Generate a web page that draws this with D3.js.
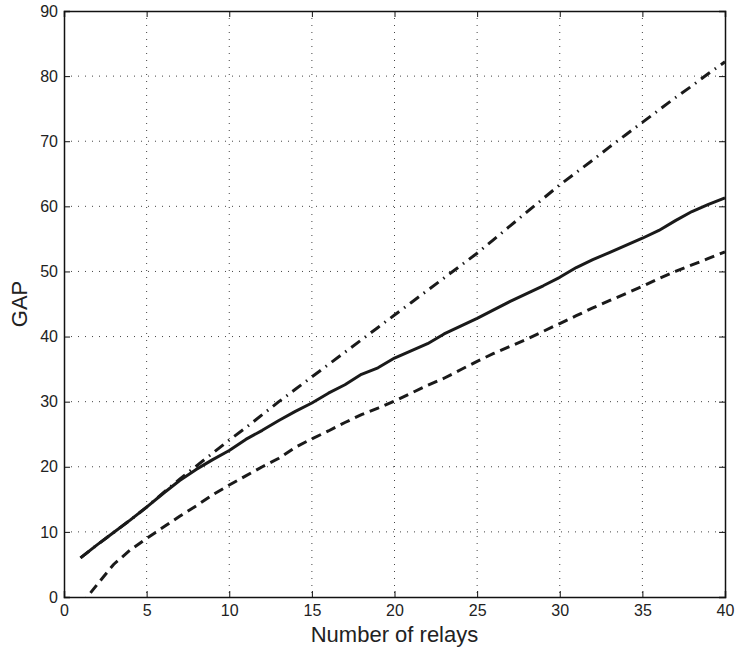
<!DOCTYPE html>
<html>
<head>
<meta charset="utf-8">
<script src="https://cdn.jsdelivr.net/npm/d3@7/dist/d3.min.js"></script>
<style>
  html, body { margin: 0; padding: 0; background: #fff; }
  svg { display: block; }
  text { font-family: "Liberation Sans", Arial, Helvetica, sans-serif; fill: #222; }
</style>
</head>
<body>
<script>
// ---- data ----
const relays = d3.range(1, 41);
const simulated = [6.0, 8.0, 9.9, 11.8, 13.8, 15.9, 17.9, 19.6, 21.1, 22.5,
  24.2, 25.6, 27.1, 28.5, 29.8, 31.3, 32.6, 34.2, 35.2, 36.7,
  37.8, 38.9, 40.4, 41.6, 42.8, 44.1, 45.4, 46.6, 47.8, 49.1,
  50.6, 51.8, 52.9, 54.0, 55.1, 56.3, 57.8, 59.2, 60.3, 61.3];
const upperBound = [6.0, 8.0, 9.9, 11.8, 13.8, 16.0, 18.1, 20.1, 22.1, 24.1,
  26.0, 28.0, 30.0, 31.9, 33.8, 35.7, 37.6, 39.5, 41.4, 43.3,
  45.2, 47.1, 49.0, 50.9, 52.8, 54.9, 57.0, 59.1, 61.2, 63.3,
  65.2, 67.1, 69.1, 71.0, 72.9, 74.8, 76.7, 78.5, 80.4, 82.2];
const lowerBound = [-1.3, 1.9, 5.0, 7.2, 9.0, 10.7, 12.4, 14.0, 15.7, 17.2,
  18.6, 20.0, 21.3, 23.0, 24.3, 25.5, 26.8, 28.0, 29.0, 30.1,
  31.3, 32.5, 33.6, 34.9, 36.2, 37.4, 38.5, 39.6, 40.8, 42.0,
  43.2, 44.4, 45.5, 46.6, 47.7, 48.9, 50.0, 51.0, 52.0, 53.0];
const xTicks = [0, 5, 10, 15, 20, 25, 30, 35, 40];
const yTicks = [0, 10, 20, 30, 40, 50, 60, 70, 80, 90];
const xLabel = "Number of relays";
const yLabel = "GAP";

// ---- layout ----
const W = 736, H = 648;
const margin = { top: 11, right: 11, bottom: 51, left: 64 };
const iw = W - margin.left - margin.right;
const ih = H - margin.top - margin.bottom;

const svg = d3.select("body").append("svg").attr("width", W).attr("height", H);
const g = svg.append("g").attr("transform", `translate(${margin.left},${margin.top})`);

const x = d3.scaleLinear().domain([0, 40]).range([0, iw]);
const y = d3.scaleLinear().domain([0, 90]).range([ih, 0]);

svg.append("defs").append("clipPath").attr("id", "clip")
  .append("rect").attr("x", 0).attr("y", 0).attr("width", iw).attr("height", ih);

// grid
const grid = g.append("g");
grid.selectAll(".gx").data(xTicks.filter(t => t > 0 && t < 40)).enter().append("line")
  .attr("x1", d => x(d)).attr("x2", d => x(d)).attr("y1", 0).attr("y2", ih)
  .attr("stroke", "#444").attr("stroke-width", 1).attr("stroke-dasharray", "1,6");
grid.selectAll(".gy").data(yTicks.filter(t => t > 0 && t < 90)).enter().append("line")
  .attr("y1", d => y(d)).attr("y2", d => y(d)).attr("x1", 0).attr("x2", iw)
  .attr("stroke", "#444").attr("stroke-width", 1).attr("stroke-dasharray", "1,6");

// axes (inward ticks, MATLAB style)
const tickLen = 6;
const xAxisB = g.append("g").attr("transform", `translate(0,${ih})`)
  .call(d3.axisBottom(x).tickValues(xTicks).tickSize(-tickLen).tickPadding(8));
const xAxisT = g.append("g")
  .call(d3.axisTop(x).tickValues(xTicks).tickSize(-tickLen).tickFormat(""));
const yAxisL = g.append("g")
  .call(d3.axisLeft(y).tickValues(yTicks).tickSize(-tickLen).tickPadding(6));
const yAxisR = g.append("g").attr("transform", `translate(${iw},0)`)
  .call(d3.axisRight(y).tickValues(yTicks).tickSize(-tickLen).tickFormat(""));
[xAxisB, xAxisT, yAxisL, yAxisR].forEach(a => {
  a.select(".domain").attr("stroke", "#111").attr("stroke-width", 1.5);
  a.selectAll(".tick line").attr("stroke", "#111").attr("stroke-width", 1);
  a.selectAll(".tick text").attr("font-size", 16).attr("fill", "#222")
    .attr("font-family", '"Liberation Sans", Arial, sans-serif');
});

// lines
const line = d3.line().x((d, i) => x(relays[i])).y(d => y(d));
const plot = g.append("g").attr("clip-path", "url(#clip)");
plot.append("path").datum(upperBound).attr("d", line)
  .attr("fill", "none").attr("stroke", "#1a1a1a").attr("stroke-width", 3)
  .attr("stroke-dasharray", "11,6,1.5,6");
plot.append("path").datum(lowerBound).attr("d", line)
  .attr("fill", "none").attr("stroke", "#1a1a1a").attr("stroke-width", 3)
  .attr("stroke-dasharray", "10,6");
plot.append("path").datum(simulated).attr("d", line)
  .attr("fill", "none").attr("stroke", "#1a1a1a").attr("stroke-width", 3)
  .attr("stroke-linejoin", "round");

// axis labels
svg.append("text").attr("x", margin.left + iw / 2).attr("y", 642)
  .attr("text-anchor", "middle").attr("font-size", 22).text(xLabel);
svg.append("text")
  .attr("transform", `translate(27,${margin.top + ih / 2}) rotate(-90)`)
  .attr("text-anchor", "middle").attr("font-size", 22).text(yLabel);
</script>
</body>
</html>
